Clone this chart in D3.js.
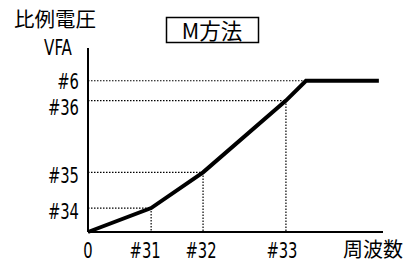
<!DOCTYPE html>
<html><head><meta charset="utf-8">
<script src="https://cdn.jsdelivr.net/npm/d3@7"></script>
<style>body{margin:0;background:#fff}svg{display:block}</style>
</head><body>
<script>
// Data
const pointLabelsX = ["#31", "#32", "#33"];
const pointX = [21.4, 39.0, 67.1];
const pointLabelsY = ["#34", "#35", "#36", "#6"];
const pointY = [13.0, 32.4, 71.4, 82.2];
const lineX = [0, 21.4, 39.0, 67.1, 73.9, 98.6];
const lineY = [0, 13.0, 32.4, 71.4, 82.2, 82.2];
const title = "M方法";
const yTitle = ["比例電圧", "VFA"];
const xTitle = "周波数";

const W = 406, H = 263;
const svg = d3.select("body").append("svg").attr("width", W).attr("height", H);
const x = d3.scaleLinear().domain([0, 100]).range([88, 383]);
const y = d3.scaleLinear().domain([0, 100]).range([232, 48]);
const latin = "'DejaVu Sans Condensed','DejaVu Sans',sans-serif";
const cjk = "'Noto Sans CJK JP',sans-serif";
const SX = 0.78;

function narrow(tx, ty, txt, anchor, size) {
  svg.append("g").attr("transform", `translate(${tx},${ty}) scale(${SX},1)`)
    .append("text").attr("text-anchor", anchor).attr("font-family", latin)
    .attr("font-size", size).attr("fill", "#000").text(txt);
}

// dotted guides
const guideH = [[82.2, 73.9], [71.4, 67.1], [32.4, 39.0], [13.0, 21.4]];
guideH.forEach(([v, xe]) => {
  svg.append("line").attr("x1", x(0)).attr("x2", x(xe)).attr("y1", y(v)).attr("y2", y(v))
    .attr("stroke", "#000").attr("stroke-width", 1.2).attr("stroke-dasharray", "1.5,1.5");
});
pointX.forEach((v, i) => {
  const yv = [13.0, 32.4, 71.4][i];
  svg.append("line").attr("x1", x(v)).attr("x2", x(v)).attr("y1", y(yv)).attr("y2", y(0))
    .attr("stroke", "#000").attr("stroke-width", 1.2).attr("stroke-dasharray", "1.5,1.5");
});

// axes
svg.append("line").attr("x1", x(0)).attr("x2", x(0)).attr("y1", y(0)).attr("y2", y(100))
  .attr("stroke", "#000").attr("stroke-width", 2);
svg.append("line").attr("x1", x(0)).attr("x2", x(100)).attr("y1", y(0)).attr("y2", y(0))
  .attr("stroke", "#000").attr("stroke-width", 2);

// data line
const pts = lineX.map((v, i) => [v, lineY[i]]);
svg.append("path").attr("d", d3.line().x(d => x(d[0])).y(d => y(d[1]))(pts))
  .attr("fill", "none").attr("stroke", "#000").attr("stroke-width", 4).attr("stroke-linejoin", "miter");

// y labels (offset so they don't collide)
const yLabelOffset = [11, 11, 14, 8];
pointLabelsY.forEach((t, i) => {
  narrow(79, y(pointY[i]) + yLabelOffset[i], t, "end", 21);
});
// x labels
narrow(88, 258, "0", "middle", 21);
const xLabelShift = [-6, -2, -4];
pointLabelsX.forEach((t, i) => {
  narrow(x(pointX[i]) + xLabelShift[i], 258, t, "middle", 21);
});
svg.append("text").attr("x", 373).attr("y", 257).attr("text-anchor", "middle")
  .attr("font-family", cjk).attr("font-size", 20).text(xTitle);

// y title
svg.append("text").attr("x", 55).attr("y", 27).attr("text-anchor", "middle")
  .attr("font-family", cjk).attr("font-size", 20.5).text(yTitle[0]);
narrow(58, 55, yTitle[1], "middle", 21.5);

// title box
svg.append("rect").attr("x", 166.5).attr("y", 17.5).attr("width", 92).attr("height", 25)
  .attr("fill", "#fff").attr("stroke", "#000").attr("stroke-width", 1.5);
svg.append("text").attr("x", 212).attr("y", 38.5).attr("text-anchor", "middle")
  .attr("font-family", cjk).attr("font-size", 21.5).text(title);
</script>
</body></html>
